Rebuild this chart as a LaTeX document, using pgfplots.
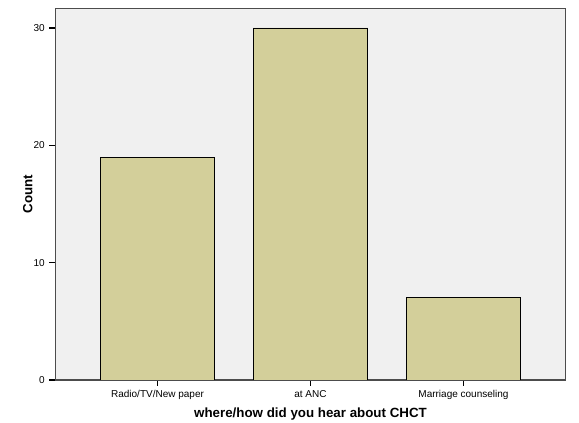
\documentclass[border=0pt]{standalone}
\usepackage{fontspec}
\setmainfont{Liberation Sans}
\usepackage{pgfplots}
\pgfplotsset{compat=1.18}
\definecolor{plotbg}{HTML}{F0F0F0}
\definecolor{barfill}{HTML}{D3CF9A}
\begin{document}
\begin{tikzpicture}[x=0.75pt,y=0.75pt]
\useasboundingbox (-55.5,-43) rectangle (523.5,380);
\begin{axis}[
    at={(0,0)}, anchor=south west,
    scale only axis,
    width=382.5pt, height=278.6pt,
    xmin=-0.667, xmax=2.667,
    ymin=0, ymax=31.66,
    xtick={0,1,2},
    xticklabels={Radio/TV/New paper, at ANC, Marriage counseling},
    ytick={0,10,20,30},
    tick pos=left,
    tick align=outside,
    major tick length=4.5pt,
    tick style={black, line width=0.8pt},
    ticklabel style={font=\fontsize{7.5}{9}\selectfont},
    /pgf/number format/assume math mode=true,
    axis background/.style={fill=plotbg},
    axis line style={draw=black!70, line width=0.8pt},
    xlabel={\textbf{where/how did you hear about CHCT}},
    ylabel={\textbf{Count}},
    label style={font=\fontsize{10}{12}\selectfont},
    xlabel style={yshift=1pt},
    ylabel style={yshift=-6pt},
    ybar, bar width=0.75, bar shift=0pt,
]
\addplot[fill=barfill, draw=black, line width=0.6pt] coordinates {(0,19) (1,30) (2,7)};
\end{axis}
\end{tikzpicture}
\end{document}
